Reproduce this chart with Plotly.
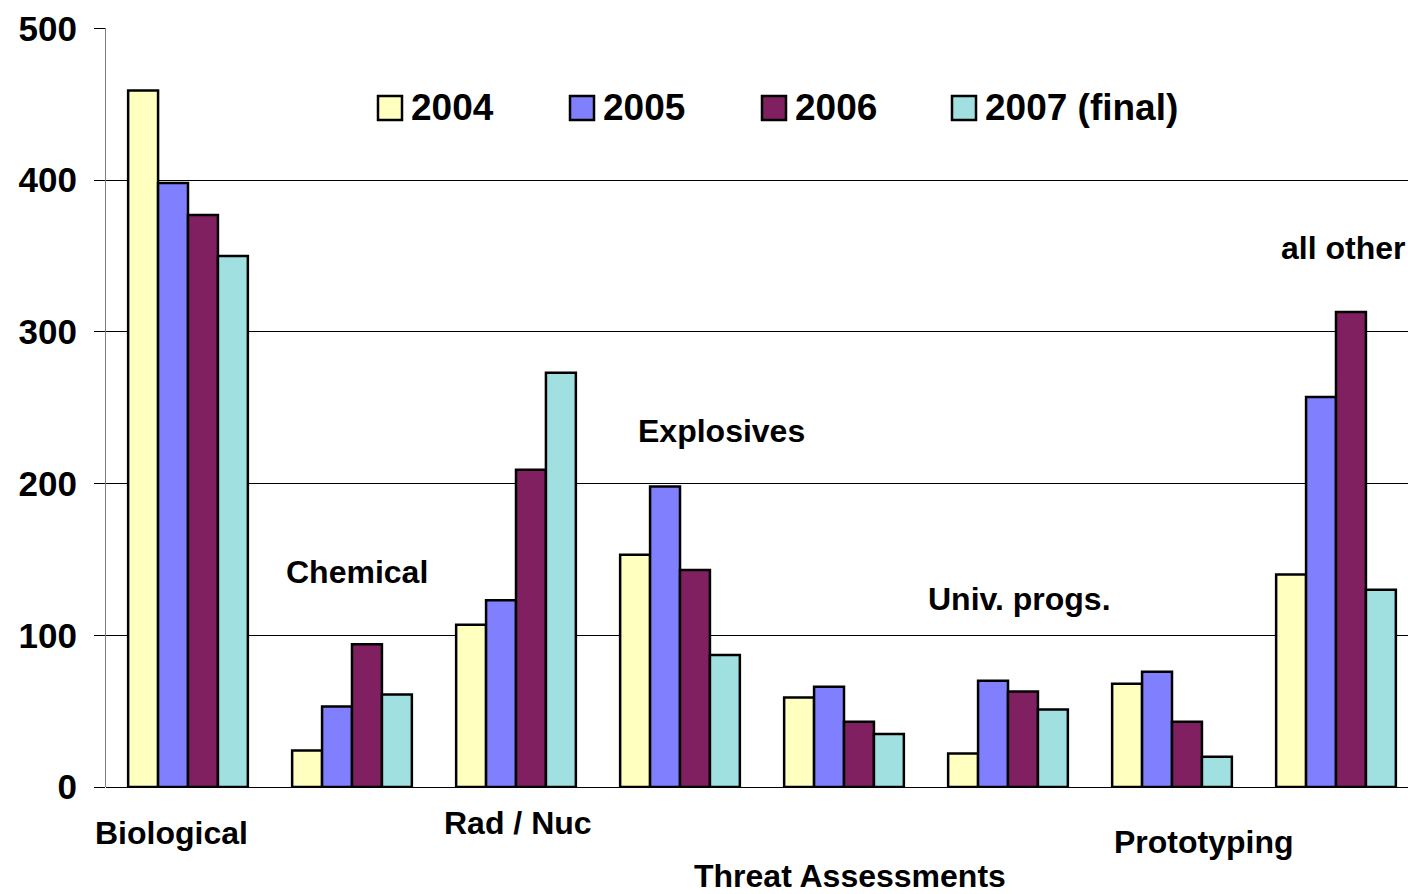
import plotly.graph_objects as go

categories = ["Biological", "Chemical", "Rad / Nuc", "Explosives",
              "Threat Assessments", "Univ. progs.", "Prototyping", "all other"]
series_names = ["2004", "2005", "2006", "2007 (final)"]
v2004 = [459, 24, 107, 153, 59, 22, 68, 140]
v2005 = [398, 53, 123, 198, 66, 70, 76, 257]
v2006 = [377, 94, 209, 143, 43, 63, 43, 313]
v2007 = [350, 61, 273, 87, 35, 51, 20, 130]
colors = ["#FFFFC0", "#8080FF", "#802060", "#A0E0E0"]
y_ticks = [0, 100, 200, 300, 400, 500]

# label pixel positions (center x, center y) in the 1408x894 canvas
label_pos = [(171, 833), (357, 572), (518, 823), (721, 431),
             (850, 876), (1019, 599), (1204, 842), (1343, 248)]
legend_box_x = [378, 570, 762, 952]

W, H = 1408, 894
L, R, T, B = 106, 0, 28, 107
PW, PH = W - L - R, H - T - B


def px(x):
    return (x - L) / PW


def py(y):
    return (H - B - y) / PH


fig = go.Figure()
for name, vals, c in zip(series_names, [v2004, v2005, v2006, v2007], colors):
    fig.add_trace(go.Bar(
        x=list(range(len(categories))), y=vals, name=name,
        marker=dict(color=c, line=dict(color="black", width=2.5)),
        showlegend=False,
    ))

font = "Arial, Liberation Sans, sans-serif"
annotations = []
for cat, (cx, cy) in zip(categories, label_pos):
    annotations.append(dict(
        text="<b>%s</b>" % cat, xref="paper", yref="paper",
        x=px(cx), y=py(cy), xanchor="center", yanchor="middle",
        showarrow=False, font=dict(family=font, size=32, color="black"),
    ))

shapes = []
for name, c, bx in zip(series_names, colors, legend_box_x):
    shapes.append(dict(
        type="rect", xref="paper", yref="paper",
        x0=px(bx), x1=px(bx + 24), y0=py(120), y1=py(96),
        fillcolor=c, line=dict(color="black", width=2.5),
    ))
    annotations.append(dict(
        text="<b>%s</b>" % name, xref="paper", yref="paper",
        x=px(bx + 31), y=py(108), xanchor="left", yanchor="middle",
        showarrow=False, font=dict(family=font, size=37, color="black"),
    ))

fig.update_layout(
    width=W, height=H,
    margin=dict(l=L, r=R, t=T, b=B, pad=0),
    plot_bgcolor="white", paper_bgcolor="white",
    barmode="group", bargap=0.27, bargroupgap=0,
    annotations=annotations, shapes=shapes,
    xaxis=dict(range=[-0.5, -0.5 + PW / 164.0], showticklabels=False,
               showgrid=False, zeroline=False, showline=False, ticks=""),
    yaxis=dict(range=[0, 500.2], tickvals=y_ticks, showgrid=True,
               gridcolor="black", gridwidth=1, zeroline=True,
               zerolinecolor="black", zerolinewidth=1,
               showline=True, linecolor="#808080", linewidth=1,
               ticks="outside", ticklen=11, tickcolor="black", tickwidth=1,
               ticklabelstandoff=10,
               tickfont=dict(family=font, size=35, color="black",
                             weight="bold")),
)

fig.write_html("out.html", config={"displayModeBar": False},
               post_script="document.body.style.margin='0';"
                           "document.body.style.padding='0';")
